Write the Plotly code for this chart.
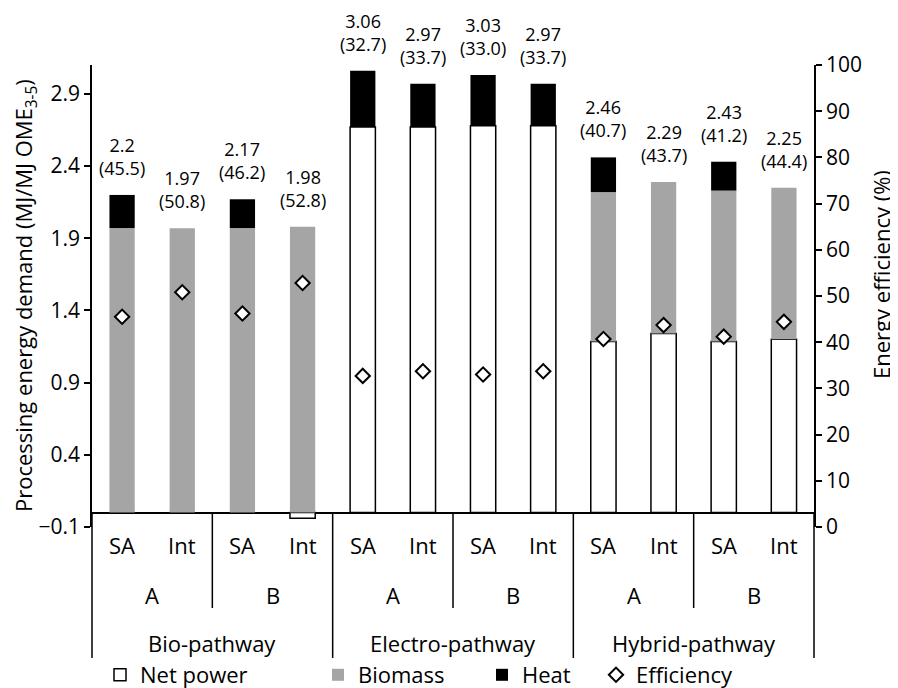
import plotly.graph_objects as go

# ---- data ----
pathways = ["Bio-pathway", "Electro-pathway", "Hybrid-pathway"]
variants = ["A", "B"]
configs = ["SA", "Int"]

net_power = [0, 0, 0, -0.04, 2.67, 2.67, 2.68, 2.68, 1.185, 1.24, 1.185, 1.20]
biomass = [1.97, 1.97, 1.97, 1.98, 0, 0, 0, 0, 1.035, 1.05, 1.045, 1.05]
heat = [0.23, 0, 0.20, 0, 0.39, 0.30, 0.35, 0.29, 0.24, 0, 0.20, 0]
total_labels = [2.2, 1.97, 2.17, 1.98, 3.06, 2.97, 3.03, 2.97, 2.46, 2.29, 2.43, 2.25]
efficiency = [45.5, 50.8, 46.2, 52.8, 32.7, 33.7, 33.0, 33.7, 40.7, 43.7, 41.2, 44.4]

FONT = "Open Sans"
n = len(net_power)
x = list(range(n))
BW = 0.42

fig = go.Figure()
fig.add_trace(go.Bar(x=x, y=net_power, width=BW, name="Net power",
                     marker=dict(color="white", line=dict(color="black", width=1.5)),
                     legend="legend", showlegend=True))
fig.add_trace(go.Bar(x=x, y=biomass, width=BW, name="Biomass",
                     marker=dict(color="#a5a5a5", line=dict(width=0)),
                     legend="legend2", showlegend=True))
fig.add_trace(go.Bar(x=x, y=heat, width=BW, name="Heat",
                     marker=dict(color="black", line=dict(width=0)),
                     legend="legend3", showlegend=True))
fig.add_trace(go.Scatter(x=x, y=efficiency, name="Efficiency", mode="markers", yaxis="y2",
                         marker=dict(symbol="diamond", size=11, color="white",
                                     line=dict(color="black", width=2)),
                         legend="legend4", showlegend=True))

# page coordinates: plot area spans x 92..814, y 65..527 (body margin 8px)
PX0, PX1, PY0, PY1 = 92, 814, 65, 527
def py(pix):
    return (PY1 - pix) / (PY1 - PY0)
def px(pix):
    return (pix - PX0) / (PX1 - PX0)

annotations = []
# data labels above bars
for i in range(n):
    top = max(net_power[i], 0) + biomass[i] + heat[i]
    annotations.append(dict(x=i, y=top, xref="x", yref="y", yanchor="bottom",
                            text=f"{total_labels[i]:g}<br>({efficiency[i]:.1f})",
                            showarrow=False, yshift=13,
                            font=dict(family=FONT, size=18, color="black")))

# multi-level category labels
for i in range(n):
    annotations.append(dict(x=i, y=py(545), xref="x", yref="paper", yanchor="middle",
                            text=configs[i % 2], showarrow=False,
                            font=dict(family=FONT, size=22, color="black")))
nv = len(pathways) * len(variants)
for k in range(nv):
    annotations.append(dict(x=2 * k + 0.5, y=py(595), xref="x", yref="paper", yanchor="middle",
                            text=variants[k % 2], showarrow=False,
                            font=dict(family=FONT, size=22, color="black")))
for p, name in enumerate(pathways):
    annotations.append(dict(x=4 * p + 1.5, y=py(643), xref="x", yref="paper", yanchor="middle",
                            text=name, showarrow=False,
                            font=dict(family=FONT, size=22, color="black")))

# axis titles
annotations.append(dict(x=px(25), y=0.5, xref="paper", yref="paper",
                        text="Processing energy demand (MJ/MJ OME<sub>3-5</sub>)",
                        textangle=-90, showarrow=False, xanchor="center", yanchor="middle",
                        font=dict(family=FONT, size=22, color="black")))
annotations.append(dict(x=px(881), y=py(274), xref="paper", yref="paper",
                        text="Energy efficiency (%)",
                        textangle=-90, showarrow=False, xanchor="center", yanchor="middle",
                        font=dict(family=FONT, size=22, color="black")))

# separator lines for the category hierarchy
y_base = (0 - (-0.1)) / 3.2
shapes = []
for b in range(0, n + 1, 2):
    outer = (b % 4 == 0)
    shapes.append(dict(type="line", xref="paper", yref="paper",
                       x0=b / n, x1=b / n, y0=y_base, y1=py(658) if outer else py(608),
                       line=dict(color="black", width=1.5)))

def leg(xpix):
    return dict(x=px(xpix), y=py(675), xanchor="left", yanchor="middle",
                orientation="h", bgcolor="rgba(0,0,0,0)", borderwidth=0,
                font=dict(family=FONT, size=22, color="black"))

W, H = 898 - 8, 688 - 8
ML, MT = PX0 - 8, PY0 - 8
MR = W - ML - (PX1 - PX0)
MB = H - MT - (PY1 - PY0)

fig.update_layout(
    width=W, height=H,
    margin=dict(l=ML, r=MR, t=MT, b=MB, autoexpand=False),
    paper_bgcolor="white", plot_bgcolor="white",
    barmode="relative",
    showlegend=True,
    font=dict(family=FONT, size=21, color="black"),
    xaxis=dict(range=[-0.5, n - 0.5], showticklabels=False, ticks="", showgrid=False,
               zeroline=False, showline=False),
    yaxis=dict(range=[-0.1, 3.1], tick0=-0.1, dtick=0.5, tickformat=".1f",
               ticks="outside", ticklen=6, tickwidth=1.5, tickcolor="black",
               showline=True, linecolor="black", linewidth=1.5, showgrid=False,
               zeroline=True, zerolinecolor="black", zerolinewidth=1.5,
               tickfont=dict(family=FONT, size=21, color="black")),
    yaxis2=dict(range=[0, 100], dtick=10, overlaying="y", side="right",
                ticks="outside", ticklen=6, tickwidth=1.5, tickcolor="black",
                showline=True, linecolor="black", linewidth=1.5, showgrid=False,
                zeroline=False, tickfont=dict(family=FONT, size=21, color="black")),
    legend=leg(100), legend2=leg(318), legend3=leg(482), legend4=leg(596),
    annotations=annotations,
    shapes=shapes,
)

fig.write_html("out.html")
